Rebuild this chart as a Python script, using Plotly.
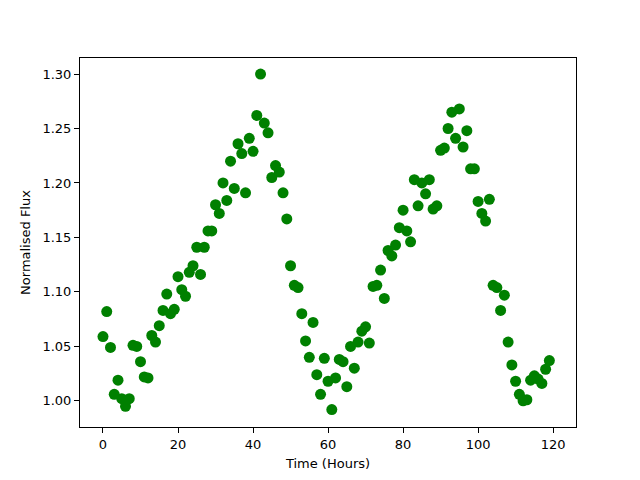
import plotly.graph_objects as go

hours = list(range(120))
flux = [
    1.059, 1.082, 1.049, 1.006, 1.019, 1.002, 0.995, 1.002, 1.051, 1.050,
    1.036, 1.022, 1.021, 1.060, 1.054, 1.069, 1.083, 1.098, 1.080, 1.084,
    1.114, 1.102, 1.096, 1.118, 1.124, 1.141, 1.116, 1.141, 1.156, 1.156,
    1.180, 1.172, 1.200, 1.184, 1.220, 1.195, 1.236, 1.227, 1.191, 1.241,
    1.229, 1.262, 1.300, 1.255, 1.246, 1.205, 1.216, 1.210, 1.191, 1.167,
    1.124, 1.106, 1.104, 1.080, 1.055, 1.040, 1.072, 1.024, 1.006, 1.039,
    1.018, 0.992, 1.021, 1.038, 1.036, 1.013, 1.050, 1.030, 1.054, 1.064,
    1.068, 1.053, 1.105, 1.106, 1.120, 1.094, 1.138, 1.133, 1.143, 1.159,
    1.175, 1.156, 1.146, 1.203, 1.179, 1.200, 1.190, 1.203, 1.176, 1.179,
    1.230, 1.232, 1.250, 1.265, 1.241, 1.268, 1.233, 1.248, 1.213, 1.213,
    1.183, 1.172, 1.165, 1.185, 1.106, 1.104, 1.083, 1.097, 1.054, 1.033,
    1.018, 1.006, 1.000, 1.001, 1.019, 1.023, 1.020, 1.016, 1.029, 1.037,
]
x_ticks = [0, 20, 40, 60, 80, 100, 120]
y_ticks = [1.00, 1.05, 1.10, 1.15, 1.20, 1.25, 1.30]

fig = go.Figure(go.Scatter(
    x=hours, y=flux, mode="markers",
    marker=dict(color="#008000", size=11, line=dict(width=0)),
))

axis_common = dict(
    showgrid=False, zeroline=False, showline=True, linecolor="black",
    linewidth=1, mirror=True, ticks="outside", ticklen=5, tickwidth=1,
    tickcolor="black", tickfont=dict(family="DejaVu Sans", size=13, color="black"),
)
fig.update_xaxes(range=[-6.13, 126.1], tickvals=x_ticks,
                 ticktext=[str(t) for t in x_ticks],
                 title=dict(text="Time (Hours)", font=dict(family="DejaVu Sans", size=13, color="black"), standoff=8),
                 **axis_common)
fig.update_yaxes(range=[0.976, 1.3147], tickvals=y_ticks,
                 ticktext=[f"{t:.2f}" for t in y_ticks],
                 title=dict(text="Normalised Flux", font=dict(family="DejaVu Sans", size=13, color="black"), standoff=8),
                 **axis_common)
fig.update_layout(
    width=640, height=480, showlegend=False,
    margin=dict(l=72, r=72, t=50, b=61),
    paper_bgcolor="white", plot_bgcolor="white",
)
fig.write_html("out.html")
